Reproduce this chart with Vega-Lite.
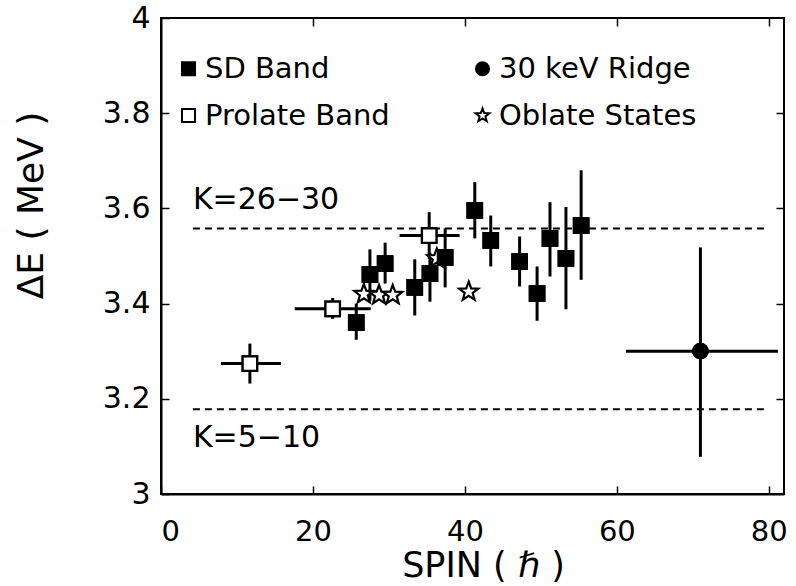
{
  "$schema": "https://vega.github.io/schema/vega-lite/v6.json",
  "autosize": "none",
  "width": 623,
  "height": 476,
  "padding": {"left": 161, "top": 18, "right": 12, "bottom": 92},
  "background": "white",
  "config": {
    "font": "DejaVu Sans",
    "view": {"stroke": "black", "strokeWidth": 2},
    "axis": {
      "grid": false,
      "domainColor": "black",
      "domainWidth": 2,
      "tickColor": "black",
      "tickWidth": 1.5,
      "labelColor": "black",
      "titleColor": "black",
      "labelFont": "DejaVu Sans",
      "titleFont": "DejaVu Sans",
      "titleFontWeight": "normal",
      "labelFontSize": 30,
      "titleFontSize": 36
    },
    "legend": {
      "title": null,
      "orient": "none",
      "legendX": 13,
      "legendY": 36,
      "columns": 2,
      "direction": "vertical",
      "columnPadding": 78,
      "rowPadding": 17,
      "labelFontSize": 29,
      "labelFont": "DejaVu Sans",
      "labelColor": "black",
      "labelOffset": 2,
      "labelLimit": 400,
      "symbolSize": 170,
      "symbolStrokeWidth": 2,
      "padding": 0
    }
  },
  "datasets": {
    "pts": [
      {"series": "Oblate States", "spin": 26.7, "de": 3.42, "xlo": null, "xhi": null, "ylo": null, "yhi": null},
      {"series": "Oblate States", "spin": 28.7, "de": 3.418, "xlo": null, "xhi": null, "ylo": null, "yhi": null},
      {"series": "Oblate States", "spin": 30.5, "de": 3.418, "xlo": null, "xhi": null, "ylo": null, "yhi": null},
      {"series": "Oblate States", "spin": 36.3, "de": 3.495, "xlo": null, "xhi": null, "ylo": null, "yhi": null},
      {"series": "Oblate States", "spin": 40.5, "de": 3.425, "xlo": null, "xhi": null, "ylo": null, "yhi": null},
      {"series": "Prolate Band", "spin": 11.7, "de": 3.274, "xlo": 7.9, "xhi": 15.8, "ylo": 3.232, "yhi": 3.316},
      {"series": "Prolate Band", "spin": 22.6, "de": 3.389, "xlo": 17.6, "xhi": 27.6, "ylo": 3.368, "yhi": 3.412},
      {"series": "Prolate Band", "spin": 35.3, "de": 3.543, "xlo": 31.4, "xhi": 39.3, "ylo": 3.494, "yhi": 3.592},
      {"series": "SD Band", "spin": 25.7, "de": 3.36, "xlo": null, "xhi": null, "ylo": 3.324, "yhi": 3.4},
      {"series": "SD Band", "spin": 27.5, "de": 3.461, "xlo": null, "xhi": null, "ylo": 3.406, "yhi": 3.514},
      {"series": "SD Band", "spin": 29.5, "de": 3.484, "xlo": null, "xhi": null, "ylo": 3.442, "yhi": 3.528},
      {"series": "SD Band", "spin": 33.4, "de": 3.434, "xlo": null, "xhi": null, "ylo": 3.375, "yhi": 3.493},
      {"series": "SD Band", "spin": 35.4, "de": 3.463, "xlo": null, "xhi": null, "ylo": 3.404, "yhi": 3.507},
      {"series": "SD Band", "spin": 37.4, "de": 3.497, "xlo": null, "xhi": null, "ylo": 3.434, "yhi": 3.558},
      {"series": "SD Band", "spin": 41.3, "de": 3.596, "xlo": null, "xhi": null, "ylo": 3.537, "yhi": 3.655},
      {"series": "SD Band", "spin": 43.4, "de": 3.533, "xlo": null, "xhi": null, "ylo": 3.478, "yhi": 3.585},
      {"series": "SD Band", "spin": 47.2, "de": 3.488, "xlo": null, "xhi": null, "ylo": 3.436, "yhi": 3.541},
      {"series": "SD Band", "spin": 49.5, "de": 3.421, "xlo": null, "xhi": null, "ylo": 3.364, "yhi": 3.478},
      {"series": "SD Band", "spin": 51.2, "de": 3.537, "xlo": null, "xhi": null, "ylo": 3.457, "yhi": 3.613},
      {"series": "SD Band", "spin": 53.3, "de": 3.495, "xlo": null, "xhi": null, "ylo": 3.388, "yhi": 3.603},
      {"series": "SD Band", "spin": 55.3, "de": 3.564, "xlo": null, "xhi": null, "ylo": 3.45, "yhi": 3.68},
      {"series": "30 keV Ridge", "spin": 71.0, "de": 3.30, "xlo": 61.2, "xhi": 81.2, "ylo": 3.078, "yhi": 3.518}
    ],
    "lines": [
      {"x1": 4.2, "x2": 79.5, "y": 3.558, "label": "K=26\u221230", "ly": 3.618},
      {"x1": 4.2, "x2": 79.5, "y": 3.178, "label": "K=5\u221210", "ly": 3.118}
    ]
  },
  "resolve": {"axis": {"x": "independent", "y": "independent"}},
  "layer": [
    {
      "data": {"name": "pts"},
      "mark": {"type": "point", "strokeWidth": 2.2, "opacity": 1, "size": 210},
      "encoding": {
        "x": {"field": "spin", "type": "quantitative", "scale": {"domain": [0, 82], "nice": false, "zero": false},
              "axis": {"orient": "bottom", "values": [0, 20, 40, 60, 80], "tickSize": -8, "labelPadding": 31, "labelFontSize": 29, "title": "SPIN ( \u210f )", "titleFontSize": 35, "titleX": 322, "titleY": 71, "titleAlign": "center", "titleBaseline": "middle"}},
        "y": {"field": "de", "type": "quantitative", "scale": {"domain": [3, 4], "nice": false, "zero": false},
              "axis": {"orient": "left", "values": [3, 3.2, 3.4, 3.6, 3.8, 4], "format": "~g", "tickSize": -8, "labelPadding": 19, "title": "\u0394E ( MeV )", "titleX": -130, "titleY": 187, "titleAlign": "center", "titleBaseline": "middle", "titleAngle": 270}},
        "shape": {"field": "series", "type": "nominal",
          "scale": {"domain": ["SD Band", "Prolate Band", "30 keV Ridge", "Oblate States"],
                    "range": ["square", "square", "circle", "M0,-1.1L0.27,-0.37L1.05,-0.34L0.44,0.14L0.65,0.89L0,0.46L-0.65,0.89L-0.44,0.14L-1.05,-0.34L-0.27,-0.37Z"]},
          "legend": {"title": null}},
        "fill": {"field": "series", "type": "nominal",
          "scale": {"domain": ["SD Band", "Prolate Band", "30 keV Ridge", "Oblate States"], "range": ["black", "white", "black", "white"]},
          "legend": {"title": null}},
        "stroke": {"field": "series", "type": "nominal",
          "scale": {"domain": ["SD Band", "Prolate Band", "30 keV Ridge", "Oblate States"], "range": ["black", "black", "black", "black"]},
          "legend": {"title": null}}
      }
    },
    {
      "data": {"name": "lines"},
      "mark": {"type": "rule", "strokeDash": [7, 5], "strokeWidth": 2, "color": "black"},
      "encoding": {
        "x": {"field": "x1", "type": "quantitative", "axis": null},
        "x2": {"field": "x2"},
        "y": {"field": "y", "type": "quantitative", "axis": null}
      }
    },
    {
      "data": {"name": "lines"},
      "mark": {"type": "text", "align": "left", "baseline": "middle", "fontSize": 30, "color": "black", "font": "DejaVu Sans"},
      "encoding": {
        "x": {"field": "x1", "type": "quantitative", "axis": {"orient": "top", "values": [20, 40, 60, 80], "tickSize": -8, "labels": false, "domain": false, "title": null}},
        "y": {"field": "ly", "type": "quantitative", "axis": {"orient": "right", "values": [3.2, 3.4, 3.6, 3.8], "tickSize": -8, "labels": false, "domain": false, "title": null}},
        "text": {"field": "label"}
      }
    },
    {
      "data": {"name": "pts"},
      "transform": [{"filter": "datum.xlo != null"}],
      "mark": {"type": "rule", "strokeWidth": 3, "color": "black"},
      "encoding": {
        "x": {"field": "xlo", "type": "quantitative", "axis": null},
        "x2": {"field": "xhi"},
        "y": {"field": "de", "type": "quantitative", "axis": null}
      }
    },
    {
      "data": {"name": "pts"},
      "transform": [{"filter": "datum.ylo != null"}],
      "mark": {"type": "rule", "strokeWidth": 3, "color": "black"},
      "encoding": {
        "x": {"field": "spin", "type": "quantitative", "axis": null},
        "y": {"field": "ylo", "type": "quantitative", "axis": null},
        "y2": {"field": "yhi"}
      }
    },
    {
      "data": {"name": "pts"},
      "mark": {"type": "point", "strokeWidth": 2.2, "opacity": 1},
      "encoding": {
        "x": {"field": "spin", "type": "quantitative", "axis": null},
        "y": {"field": "de", "type": "quantitative", "axis": null},
        "shape": {"field": "series", "type": "nominal"},
        "fill": {"field": "series", "type": "nominal"},
        "stroke": {"field": "series", "type": "nominal"},
        "size": {"condition": {"test": "datum.series == 'Oblate States'", "value": 330}, "value": 210}
      }
    }
  ]
}
